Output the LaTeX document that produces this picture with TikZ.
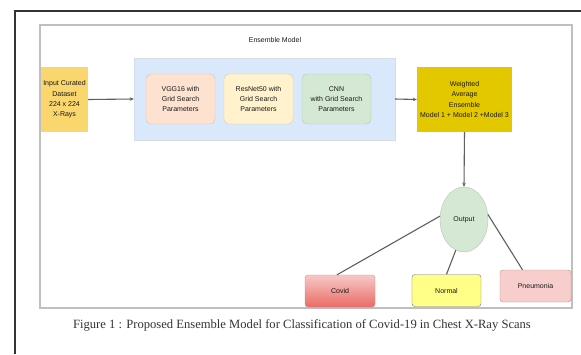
\documentclass[tikz,border=0pt]{standalone}
\usepackage{fontspec}
\setmainfont{Liberation Serif}
\setsansfont{Liberation Sans}
\usetikzlibrary{arrows.meta,shapes.geometric}
\definecolor{framegray}{HTML}{BFBFBF}
\definecolor{inputfill}{HTML}{F9D66E}
\definecolor{bluefill}{HTML}{DAE8FC}
\definecolor{vggfill}{HTML}{FDE3CF}
\definecolor{resfill}{HTML}{FFF2CC}
\definecolor{cnnfill}{HTML}{D5E8D4}
\definecolor{wfill}{HTML}{E3C800}
\definecolor{covtop}{HTML}{F7C9C7}
\definecolor{covbot}{HTML}{EA6B66}
\definecolor{normfill}{HTML}{FFFF88}
\definecolor{pnfill}{HTML}{F8CECC}
\definecolor{linegray}{HTML}{5F5F5F}
\tikzset{
  lbl/.style={font=\sffamily\fontsize{7}{10.3}\selectfont, align=center, text=black!90},
  modelbox/.style={lbl, rounded corners=5pt, minimum width=69pt, minimum height=50pt, inner sep=1pt},
  leafbox/.style={lbl, rounded corners=3pt, minimum height=32pt, inner sep=1pt},
  conn/.style={draw=linegray, line width=1.1pt},
  arr/.style={conn, -{Stealth[length=4pt,width=3.5pt]}},
}
\begin{document}
\begin{tikzpicture}[x=1pt,y=-1pt]
\useasboundingbox (0,0) rectangle (581,354);
\fill[white] (0,0) rectangle (581,354);
% outer black border
\draw[line width=2pt, black!80] (15,354) -- (15,11) -- (582,11);
% inner grey frame
\draw[framegray, line width=1.4pt] (40,25) rectangle (572,308);
\node[lbl] (title) at (275,40) {Ensemble Model};
% input
\node[lbl, fill=inputfill, minimum width=47pt, minimum height=65pt, inner sep=0pt] (inp) at (64.5,99.5) {Input Curated\\Dataset\\224 x 224\\X-Rays};
% container
\node[fill=bluefill, draw=bluefill!85!black!60, minimum width=261pt, minimum height=82pt, inner sep=0pt] (ens) at (264.5,99) {};
\node[modelbox, fill=vggfill, draw=vggfill!85!black] (vgg) at (180.5,99) {VGG16 with\\Grid Search\\Parameters};
\node[modelbox, fill=resfill, draw=resfill!85!black] (res) at (258.5,99) {ResNet50 with\\Grid Search\\Parameters};
\node[modelbox, fill=cnnfill, draw=cnnfill!85!black] (cnn) at (336.5,99) {CNN\\with Grid Search\\Parameters};
% weighted
\node[lbl, fill=wfill, minimum width=95pt, minimum height=65pt, inner sep=0pt] (wae) at (464.5,99.5) {Weighted\\Average\\Ensemble\\Model 1 + Model 2 +Model 3};
% output
\node[lbl, ellipse, fill=cnnfill, draw=cnnfill!85!black, minimum width=48pt, minimum height=65pt, inner sep=0pt] (out) at (464,219.5) {Output};
% leaves
\node[leafbox, top color=covtop, bottom color=covbot, draw=covbot!80!black!70, minimum width=70pt] (covid) at (340,291) {Covid};
\node[leafbox, fill=normfill, draw=black!55, minimum width=69pt] (normal) at (446.5,290.5) {Normal};
\node[leafbox, fill=pnfill, draw=pnfill!70!black, minimum width=71pt] (pneu) at (535.5,286) {Pneumonia};
% connectors
\draw[arr] (inp.east) -- (ens.west);
\draw[arr] (ens.east) -- (wae.west);
\draw[arr] (wae.south) -- (out.north);
\draw[conn] (out.172) -- ([xshift=-3pt]covid.north);
\draw[conn] (out.255) -- (normal.north);
\draw[conn] (out.12) -- ([xshift=-13pt]pneu.north);
% caption
\node[font=\fontsize{12.6}{14}\selectfont, text=black!80, inner sep=0pt] (cap) at (302,325) {Figure 1 : Proposed Ensemble Model for Classification of Covid-19 in Chest X-Ray Scans};
\end{tikzpicture}
\end{document}
